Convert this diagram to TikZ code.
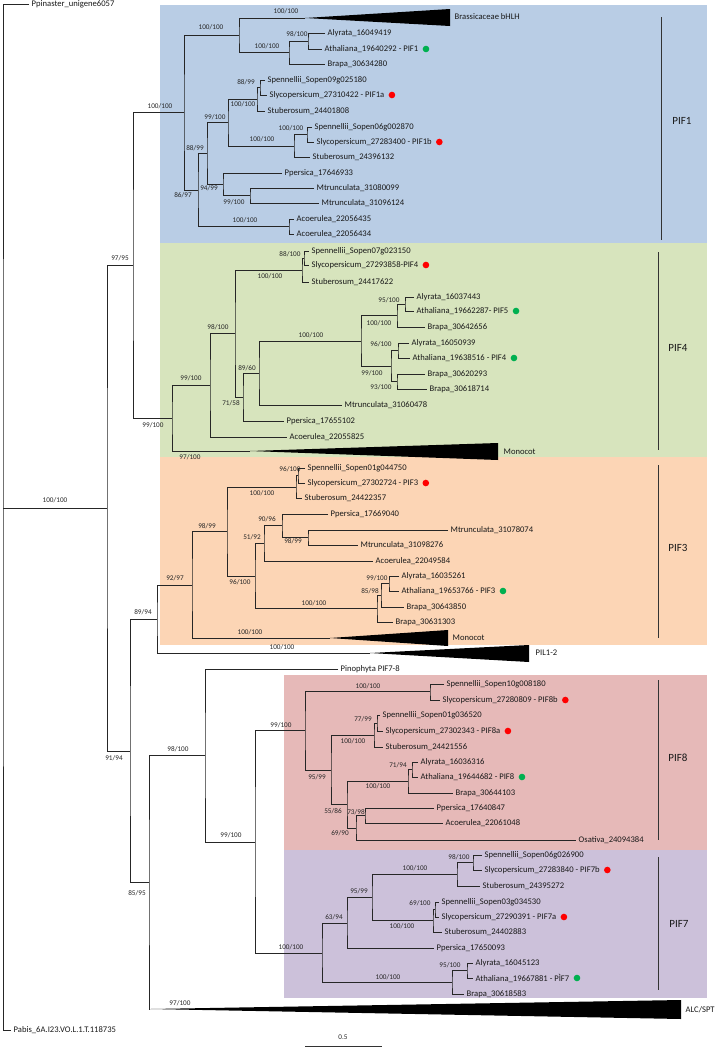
\documentclass[tikz,border=0pt]{standalone}
\usepackage{fontspec}
\setmainfont{Carlito}
\definecolor{cblue}{HTML}{B9CDE5}
\definecolor{cgreen}{HTML}{D7E4BD}
\definecolor{corange}{HTML}{FCD5B5}
\definecolor{cpink}{HTML}{E6B9B8}
\definecolor{cpurple}{HTML}{CCC1DA}
\definecolor{dotred}{HTML}{FF0000}
\definecolor{dotgreen}{HTML}{00B050}
\newcommand\tipnode[4]{\node[tip] (#1) at (#2,#3) {#4};}
\newcommand\rdot[1]{\fill[dotred] ([xshift=5pt]#1.east) circle (3.3pt);}
\newcommand\gdot[1]{\fill[dotgreen] ([xshift=5pt]#1.east) circle (3.3pt);}
\newcounter{labc}
\newcommand\slab[3]{\stepcounter{labc}\node[sup] (lab\arabic{labc}) at (#1,#2) {#3};}
\begin{document}
\begin{tikzpicture}[x=1pt,y=-1pt,
  br/.style={draw=black!85,line width=0.95pt},
  tip/.style={anchor=west,inner xsep=2.5pt,inner ysep=1pt,font=\fontsize{8.6}{9.5}\selectfont,text=black!90},
  sup/.style={inner sep=0.5pt,font=\fontsize{7.2}{8}\selectfont,text=black!85},
  clab/.style={inner sep=1pt,font=\fontsize{11}{12}\selectfont,text=black!90},
  cbar/.style={draw=black!80,line width=0.9pt}]
\useasboundingbox (0,0) rectangle (720,1052);
\fill[white] (0,0) rectangle (720,1052);
% backgrounds
\fill[cblue] (160,5) rectangle (707,243);
\fill[cgreen] (160,243) rectangle (707,457);
\fill[corange] (160,457) rectangle (707,645);
\fill[cpink] (284,675) rectangle (707,850);
\fill[cpurple] (284,850) rectangle (707,998);

% ---------- internal nodes ----------
\coordinate (R0) at (3,508);
\coordinate (A) at (107,508);
\coordinate (B) at (133,265);
\coordinate (N91) at (130,751);
% PIF1
\coordinate (P1) at (184,112.5);
\coordinate (Q) at (239,35);
\coordinate (brA) at (305,18);
\coordinate (R) at (289,52);
\coordinate (S) at (308,41);
\coordinate (T) at (198,190);
\coordinate (U) at (207,153);
\coordinate (V) at (228,122.5);
\coordinate (G1) at (257,99);
\coordinate (G1a) at (260,87.5);
\coordinate (G2) at (294,146);
\coordinate (G2a) at (307,134.5);
\coordinate (W) at (223,184);
\coordinate (X) at (250,195.5);
\coordinate (AC1) at (289,226.5);
% PIF4
\coordinate (P4) at (172,418);
\coordinate (M4a) at (250,451);
\coordinate (C) at (210,385);
\coordinate (D) at (235,333.5);
\coordinate (E) at (302,270);
\coordinate (E2) at (304,258);
\coordinate (F) at (243,397.5);
\coordinate (G) at (259,373.5);
\coordinate (H) at (361,341);
\coordinate (I) at (397,315.5);
\coordinate (J) at (405,304);
\coordinate (K) at (391,366);
\coordinate (L) at (398,350.5);
\coordinate (M) at (397,381.5);
% PIF3
\coordinate (N89) at (157,619);
\coordinate (N92) at (192,585);
\coordinate (M3a) at (330,638);
\coordinate (PILa) at (370,653);
\coordinate (O) at (227,531.5);
\coordinate (Tom3) at (296,487);
\coordinate (Tom3a) at (298,475.5);
\coordinate (P) at (255,576);
\coordinate (Q2) at (264,543);
\coordinate (R2) at (282,525.5);
\coordinate (S2) at (308,537.5);
\coordinate (T2) at (377,608.5);
\coordinate (U2) at (381,595);
\coordinate (V2) at (389,583.5);
% lower part
\coordinate (N85) at (149,882.5);
\coordinate (ALCa) at (150,1009);
\coordinate (N98) at (205,755);
\coordinate (N99b) at (255,842);
\coordinate (N99a) at (305,730.5);
\coordinate (N100b) at (322,953);
% PIF8
\coordinate (P8b) at (430,691.5);
\coordinate (N95) at (331,770);
\coordinate (T8) at (374,735);
\coordinate (T8a) at (377,723);
\coordinate (N55) at (347,804.5);
\coordinate (N100) at (408,781);
\coordinate (N71) at (412,769.5);
\coordinate (N69) at (356,828);
\coordinate (N73) at (365,815.5);
% PIF7
\coordinate (N63) at (347,923);
\coordinate (N95b) at (372,897.5);
\coordinate (T7b) at (457,874);
\coordinate (T7b1) at (473,862.5);
\coordinate (T7a) at (433,920.5);
\coordinate (T7a1) at (435,909.5);
\coordinate (B7) at (452,982.5);
\coordinate (B7a) at (467,970.5);

% ---------- tips ----------
\tipnode{ppin}{29}{4}{Ppinaster\_unigene6057}
\tipnode{pabis}{11}{1030}{Pabis\_6A.I23.VO.L.1.T.118735}
% PIF1
\tipnode{brass}{452}{17}{Brassicaceae bHLH}
\tipnode{t_aly1}{325}{33}{Alyrata\_16049419}
\tipnode{t_ath1}{322}{49}{Athaliana\_19640292 - PIF1}
\tipnode{t_bra1}{325}{64}{Brapa\_30634280}
\tipnode{t_spe1}{265}{80}{Spennellii\_Sopen09g025180}
\tipnode{t_sly1}{267}{95}{Slycopersicum\_27310422 - PIF1a}
\tipnode{t_stu1}{265}{111}{Stuberosum\_24401808}
\tipnode{t_spe2}{312}{127}{Spennellii\_Sopen06g002870}
\tipnode{t_sly2}{314}{142}{Slycopersicum\_27283400 - PIF1b}
\tipnode{t_stu2}{310}{157}{Stuberosum\_24396132}
\tipnode{t_ppe1}{282}{173}{Ppersica\_17646933}
\tipnode{t_mtr1}{314}{188}{Mtrunculata\_31080099}
\tipnode{t_mtr2}{319}{203}{Mtrunculata\_31096124}
\tipnode{t_aco1}{294}{219}{Acoerulea\_22056435}
\tipnode{t_aco2}{294}{234}{Acoerulea\_22056434}
% PIF4
\tipnode{t_spe4}{309}{251}{Spennellii\_Sopen07g023150}
\tipnode{t_sly4}{309}{265}{Slycopersicum\_27293858-PIF4}
\tipnode{t_stu4}{309}{282}{Stuberosum\_24417622}
\tipnode{t_aly4a}{414}{297}{Alyrata\_16037443}
\tipnode{t_ath4a}{414}{311}{Athaliana\_19662287- PIF5}
\tipnode{t_bra4a}{425}{327}{Brapa\_30642656}
\tipnode{t_aly4b}{409}{343}{Alyrata\_16050939}
\tipnode{t_ath4b}{410}{358}{Athaliana\_19638516 - PIF4}
\tipnode{t_bra4b}{425}{374}{Brapa\_30620293}
\tipnode{t_bra4c}{427}{389}{Brapa\_30618714}
\tipnode{t_mtr4}{342}{405}{Mtrunculata\_31060478}
\tipnode{t_ppe4}{284}{421}{Ppersica\_17655102}
\tipnode{t_aco4}{287}{437}{Acoerulea\_22055825}
\tipnode{mono4}{501}{452}{Monocot}
% PIF3
\tipnode{t_spe3}{305}{468}{Spennellii\_Sopen01g044750}
\tipnode{t_sly3}{305}{483}{Slycopersicum\_27302724 - PIF3}
\tipnode{t_stu3}{302}{498}{Stuberosum\_24422357}
\tipnode{t_ppe3}{328}{514}{Ppersica\_17669040}
\tipnode{t_mtr3a}{448}{530}{Mtrunculata\_31078074}
\tipnode{t_mtr3b}{358}{545}{Mtrunculata\_31098276}
\tipnode{t_aco3}{373}{561}{Acoerulea\_22049584}
\tipnode{t_aly3}{399}{576}{Alyrata\_16035261}
\tipnode{t_ath3}{399}{591}{Athaliana\_19653766 - PIF3}
\tipnode{t_bra3a}{404}{607}{Brapa\_30643850}
\tipnode{t_bra3b}{393}{622}{Brapa\_30631303}
\tipnode{mono3}{450}{638}{Monocot}
\tipnode{pil}{533}{653}{PIL1-2}
% Pinophyta
\tipnode{t_pino}{338}{669}{Pinophyta PIF7-8}
% PIF8
\tipnode{t_spe8b}{444}{684}{Spennellii\_Sopen10g008180}
\tipnode{t_sly8b}{440}{700}{Slycopersicum\_27280809 - PIF8b}
\tipnode{t_spe8a}{380}{715}{Spennellii\_Sopen01g036520}
\tipnode{t_sly8a}{383}{731}{Slycopersicum\_27302343 - PIF8a}
\tipnode{t_stu8}{383}{747}{Stuberosum\_24421556}
\tipnode{t_aly8}{418}{762}{Alyrata\_16036316}
\tipnode{t_ath8}{418}{777}{Athaliana\_19644682 - PIF8}
\tipnode{t_bra8}{453}{793}{Brapa\_30644103}
\tipnode{t_ppe8}{434}{808}{Ppersica\_17640847}
\tipnode{t_aco8}{443}{823}{Acoerulea\_22061048}
\tipnode{t_osa}{576}{840}{Osativa\_24094384}
% PIF7
\tipnode{t_spe7b}{482}{855}{Spennellii\_Sopen06g026900}
\tipnode{t_sly7b}{482}{870}{Slycopersicum\_27283840 - PIF7b}
\tipnode{t_stu7b}{480}{886}{Stuberosum\_24395272}
\tipnode{t_spe7a}{439}{902}{Spennellii\_Sopen03g034530}
\tipnode{t_sly7a}{439}{917}{Slycopersicum\_27290391 - PIF7a}
\tipnode{t_stu7a}{442}{932}{Stuberosum\_24402883}
\tipnode{t_ppe7}{434}{948}{Ppersica\_17650093}
\tipnode{t_aly7}{473}{963}{Alyrata\_16045123}
\tipnode{t_ath7}{473}{978}{Athaliana\_19667881 - PÌF7}
\tipnode{t_bra7}{464}{994}{Brapa\_30618583}
\tipnode{alc}{683}{1010}{ALC/SPT}

% dots
\gdot{t_ath1} \rdot{t_sly1} \rdot{t_sly2}
\rdot{t_sly4} \gdot{t_ath4a} \gdot{t_ath4b}
\rdot{t_sly3} \gdot{t_ath3}
\rdot{t_sly8b} \rdot{t_sly8a} \gdot{t_ath8}
\rdot{t_sly7b} \rdot{t_sly7a} \gdot{t_ath7}

% ---------- branches ----------
\draw[br] (ppin.west) -| (R0) |- (pabis.west);
\draw[br] (R0) -- (A);
\draw[br] (B) -| (A) |- (N91);
\draw[br] (P1) -| (B) |- (P4);
% PIF1
\draw[br] (Q) -| (P1) |- (T);
\draw[br] (brA) -| (Q) |- (R);
\draw[br] (S) -| (R) |- (t_bra1.west);
\draw[br] (t_aly1.west) -| (S) |- (t_ath1.west);
\draw[br] (U) -| (T) |- (AC1);
\draw[br] (V) -| (U) |- (W);
\draw[br] (G1) -| (V) |- (G2);
\draw[br] (G1a) -| (G1) |- (t_stu1.west);
\draw[br] (t_spe1.west) -| (G1a) |- (t_sly1.west);
\draw[br] (G2a) -| (G2) |- (t_stu2.west);
\draw[br] (t_spe2.west) -| (G2a) |- (t_sly2.west);
\draw[br] (t_ppe1.west) -| (W) |- (X);
\draw[br] (t_mtr1.west) -| (X) |- (t_mtr2.west);
\draw[br] (t_aco1.west) -| (AC1) |- (t_aco2.west);
% PIF4
\draw[br] (C) -| (P4) |- (M4a);
\draw[br] (D) -| (C) |- (t_aco4.west);
\draw[br] (E) -| (D) |- (F);
\draw[br] (E2) -| (E) |- (t_stu4.west);
\draw[br] (t_spe4.west) -| (E2) |- (t_sly4.west);
\draw[br] (G) -| (F) |- (t_ppe4.west);
\draw[br] (H) -| (G) |- (t_mtr4.west);
\draw[br] (I) -| (H) |- (K);
\draw[br] (J) -| (I) |- (t_bra4a.west);
\draw[br] (t_aly4a.west) -| (J) |- (t_ath4a.west);
\draw[br] (L) -| (K) |- (M);
\draw[br] (t_aly4b.west) -| (L) |- (t_ath4b.west);
\draw[br] (t_bra4b.west) -| (M) |- (t_bra4c.west);
% PIF3
\draw[br] (N89) -| (N91) |- (N85);
\draw[br] (N92) -| (N89) |- (PILa);
\draw[br] (O) -| (N92) |- (M3a);
\draw[br] (Tom3) -| (O) |- (P);
\draw[br] (Tom3a) -| (Tom3) |- (t_stu3.west);
\draw[br] (t_spe3.west) -| (Tom3a) |- (t_sly3.west);
\draw[br] (Q2) -| (P) |- (T2);
\draw[br] (R2) -| (Q2) |- (t_aco3.west);
\draw[br] (t_ppe3.west) -| (R2) |- (S2);
\draw[br] (t_mtr3a.west) -| (S2) |- (t_mtr3b.west);
\draw[br] (U2) -| (T2) |- (t_bra3b.west);
\draw[br] (V2) -| (U2) |- (t_bra3a.west);
\draw[br] (t_aly3.west) -| (V2) |- (t_ath3.west);
% lower
\draw[br] (N98) -| (N85) |- (ALCa);
\draw[br] (t_pino.west) -| (N98) |- (N99b);
\draw[br] (N99a) -| (N99b) |- (N100b);
% PIF8
\draw[br] (P8b) -| (N99a) |- (N95);
\draw[br] (t_spe8b.west) -| (P8b) |- (t_sly8b.west);
\draw[br] (T8) -| (N95) |- (N55);
\draw[br] (T8a) -| (T8) |- (t_stu8.west);
\draw[br] (t_spe8a.west) -| (T8a) |- (t_sly8a.west);
\draw[br] (N100) -| (N55) |- (N69);
\draw[br] (N71) -| (N100) |- (t_bra8.west);
\draw[br] (t_aly8.west) -| (N71) |- (t_ath8.west);
\draw[br] (N73) -| (N69) |- (t_osa.west);
\draw[br] (t_ppe8.west) -| (N73) |- (t_aco8.west);
% PIF7
\draw[br] (N63) -| (N100b) |- (B7);
\draw[br] (N95b) -| (N63) |- (t_ppe7.west);
\draw[br] (T7b) -| (N95b) |- (T7a);
\draw[br] (T7b1) -| (T7b) |- (t_stu7b.west);
\draw[br] (t_spe7b.west) -| (T7b1) |- (t_sly7b.west);
\draw[br] (T7a1) -| (T7a) |- (t_stu7a.west);
\draw[br] (t_spe7a.west) -| (T7a1) |- (t_sly7a.west);
\draw[br] (B7a) -| (B7) |- (t_bra7.west);
\draw[br] (t_aly7.west) -| (B7a) |- (t_ath7.west);

% collapsed clades
\fill[black] (brA) -- (450,9) -- (450,26) -- cycle;
\fill[black] (M4a) -- (498,443) -- (498,460) -- cycle;
\fill[black] (M3a) -- (448,630) -- (448,646) -- cycle;
\fill[black] (PILa) -- (529,645) -- (529,662) -- cycle;
\fill[black] (ALCa) -- (681,1000) -- (681,1019) -- cycle;

% ---------- support values ----------
\slab{55}{500}{100/100}
\slab{120}{258}{97/95}
\slab{114}{758}{91/94}
\slab{160}{106}{100/100}
\slab{211}{27}{100/100}
\slab{286}{11}{100/100}
\slab{267}{46}{100/100}
\slab{297}{34}{98/100}
\slab{183}{195}{86/97}
\slab{195}{148}{88/99}
\slab{215}{117}{99/100}
\slab{246}{82}{88/99}
\slab{243}{104}{100/100}
\slab{291}{128}{100/100}
\slab{262}{139}{100/100}
\slab{209}{188}{94/99}
\slab{234}{202}{99/100}
\slab{245}{220}{100/100}
% PIF4
\slab{153}{425}{99/100}
\slab{191}{378}{99/100}
\slab{190}{457}{97/100}
\slab{218}{327}{98/100}
\slab{290}{254}{88/100}
\slab{270}{276}{100/100}
\slab{231}{403}{71/58}
\slab{247}{368}{89/60}
\slab{311}{335}{100/100}
\slab{389}{300}{95/100}
\slab{379}{323}{100/100}
\slab{381}{344}{96/100}
\slab{372}{373}{99/100}
\slab{381}{387}{93/100}
% PIF3
\slab{143}{612}{89/94}
\slab{175}{578}{92/97}
\slab{207}{526}{98/99}
\slab{290}{469}{96/100}
\slab{262}{493}{100/100}
\slab{240}{582}{96/100}
\slab{252}{537}{51/92}
\slab{267}{519}{90/96}
\slab{293}{541}{98/99}
\slab{314}{603}{100/100}
\slab{370}{591}{85/98}
\slab{377}{578}{99/100}
\slab{250}{632}{100/100}
\slab{282}{647}{100/100}
% lower
\slab{137}{893}{85/95}
\slab{178}{749}{98/100}
\slab{231}{835}{99/100}
\slab{281}{725}{99/100}
\slab{291}{947}{100/100}
\slab{180}{1003}{97/100}
% PIF8
\slab{368}{686}{100/100}
\slab{317}{777}{95/99}
\slab{353}{741}{100/100}
\slab{363}{719}{77/99}
\slab{333}{811}{55/86}
\slab{378}{786}{100/100}
\slab{398}{765}{71/94}
\slab{340}{833}{69/90}
\slab{356}{812}{73/98}
% PIF7
\slab{334}{917}{63/94}
\slab{388}{977}{100/100}
\slab{359}{891}{95/99}
\slab{415}{868}{100/100}
\slab{402}{926}{100/100}
\slab{459}{857}{98/100}
\slab{420}{903}{69/100}
\slab{450}{965}{95/100}

% ---------- clade bars ----------
\draw[cbar] (661,17) -- (661,240);
\node[clab] (c1) at (682,121) {PIF1};
\draw[cbar] (658,252) -- (658,450);
\node[clab] (c4) at (678,348) {PIF4};
\draw[cbar] (658,465) -- (658,638);
\node[clab] (c3) at (678,548) {PIF3};
\draw[cbar] (658,680) -- (658,840);
\node[clab] (c8) at (678,758) {PIF8};
\draw[cbar] (658,857) -- (658,990);
\node[clab] (c7) at (679,924) {PIF7};

% scale bar
\draw[cbar] (305,1046) -- (382,1046);
\node[sup] (scl) at (343,1037) {0.5};
\end{tikzpicture}
\end{document}
